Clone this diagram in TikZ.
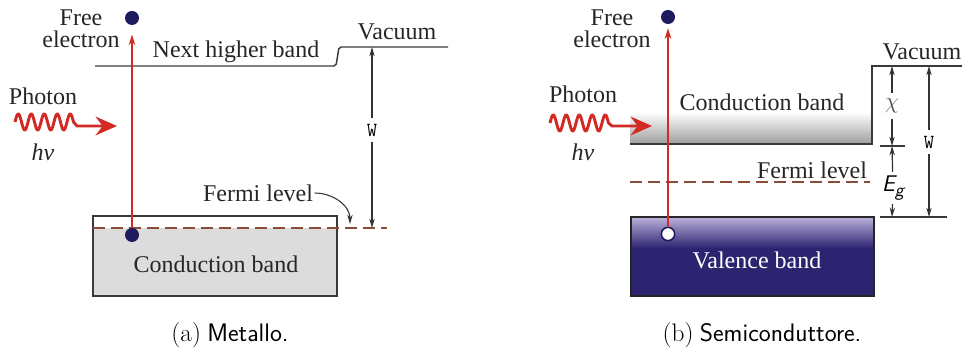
\documentclass[tikz,border=0pt]{standalone}
\usepackage{fontspec}
\setmainfont{Liberation Serif}
\newfontfamily\lmfont{Latin Modern Roman}
\usetikzlibrary{arrows.meta,positioning,calc}
\definecolor{photred}{HTML}{D42A24}
\definecolor{dotblue}{HTML}{1E1B5E}
\definecolor{valblue}{HTML}{2C2470}
\definecolor{vallav}{HTML}{B8ACD8}
\definecolor{fermibrown}{HTML}{8A4B38}
\definecolor{bandgray}{HTML}{DCDCDC}
\definecolor{edgegray}{HTML}{3A3A3A}
\newcommand{\capt}[2]{{\lmfont(#1)}\ \textsf{#2}}
\newcommand{\egap}{{\sffamily\itshape E\raisebox{-0.45ex}{\fontsize{14}{14}\selectfont g}}}
\tikzset{
  txt/.style={font=\rmfamily\fontsize{18}{16.5}\selectfont, text=black!85,
              inner sep=1pt, align=center},
  edot/.style={circle, fill=dotblue, minimum size=10.5pt, inner sep=0pt},
  hdot/.style={circle, draw=dotblue, line width=1.2pt, fill=white,
               minimum size=10pt, inner sep=0pt},
  bandln/.style={line width=1.1pt, draw=edgegray},
  fermiln/.style={dash pattern=on 9pt off 4.5pt, line width=1.1pt, draw=fermibrown},
  uparr/.style={-{Stealth[length=8pt,width=5pt]}, line width=1.4pt, color=photred},
  dimarr/.style={-{Stealth[length=7pt,width=4pt]}, line width=0.9pt, color=black!80},
  wavearr/.style={-{Stealth[length=16pt,width=14pt]}, line width=2.2pt,
                  color=photred, line join=round},
  wlbl/.style={font=\ttfamily\fontsize{15}{15}\selectfont, inner sep=4pt},
  captxt/.style={font=\fontsize{19}{22}\selectfont, inner sep=0pt}}
\begin{document}
\begin{tikzpicture}[x=0.75pt,y=-0.75pt]
  \useasboundingbox (0,0) rectangle (962,348);
  % (a) metal
  \fill[bandgray] (93,228) rectangle (337,296);
  \draw[bandln] (93,216) rectangle (337,296);
  \draw[fermiln] (93,228) -- (387,228);
  \draw[bandln, rounded corners=1.5pt] (95,66) -- (336,66) -- (339,47) -- (448,47);
  \node[txt] (nhb) at (236,52) {Next higher band};
  \node[txt] (vaca) at (397,32) {Vacuum};
  \node[txt] (cba) at (216,264) {Conduction band};
  \node[txt] (fla) at (258,193) {Fermi level};
  \node[txt] (fra) at (81,29) {Free\\electron};
  \node[txt] (pha) at (43,96) {Photon};
  \node[txt] (hva) at (43,152) {\itshape hν};
  \node[edot] (ea) at (132,235) {};
  \node[edot] (fa) at (132,18) {};
  \draw[uparr, shorten >=7pt] (ea) -- (fa);
  \coordinate (wtopa) at (372,47);
  \coordinate (wbota) at (372,228);
  \node[wlbl] (wa) at (372,130) {W};
  \draw[dimarr] (wa) -- (wtopa);
  \draw[dimarr] (wa) -- (wbota);
  \coordinate (fpta) at (350,224);
  \draw[dimarr, line width=0.8pt] (fla.east) to[out=0,in=90] (fpta);
  \coordinate (tipa) at (117,126);
  \draw[wavearr] plot[domain=0:4.5, samples=120, smooth] ({15+\x*13},{122-8*sin(360*\x)})
    -- (77,126) -- (tipa);
  \node[captxt] (capa) at (230,335) {\capt{a}{Metallo.}};
  % (b) semiconductor
  \shade[top color=white, bottom color=black!38] (630,112) rectangle (872,144);
  \draw[bandln] (630,144) -- (872,144) -- (872,66) -- (962,66);
  \fill[valblue] (631,217) rectangle (874,296);
  \shade[top color=vallav, bottom color=valblue] (631,218) rectangle (874,248);
  \draw[bandln, draw=black!85] (631,217) rectangle (874,296);
  \draw[fermiln] (630,182) -- (870,182);
  \draw[bandln, line width=0.9pt] (880,146) -- (905,146);
  \draw[bandln, line width=0.9pt] (880,217) -- (947,217);
  \node[txt] (vacb) at (922,52) {Vacuum};
  \node[txt] (cbb) at (762,102) {Conduction band};
  \node[txt] (flb) at (812,170) {Fermi level};
  \node[txt, text=white] (vbb) at (757,260) {Valence band};
  \node[txt] (frb) at (612,29) {Free\\electron};
  \node[txt] (phb) at (583,94) {Photon};
  \node[txt] (hvb) at (583,152) {\itshape hν};
  \node[hdot] (hb) at (668,234) {};
  \node[edot] (fb) at (668,17) {};
  \draw[uparr, shorten >=3pt] (hb) -- (fb);
  \coordinate (chitop) at (892,66);
  \coordinate (chibot) at (892,146);
  \coordinate (egbot) at (892,217);
  \coordinate (wtopb) at (929,66);
  \coordinate (wbotb) at (929,217);
  \node[inner sep=4pt, font=\fontsize{16}{16}\selectfont, text=black!70] (chi) at (892,106) {$\chi$};
  \node[inner sep=3pt, font=\fontsize{17}{17}\selectfont] (eg) at (893,188) {\egap};
  \node[wlbl] (wb) at (929,142) {W};
  \draw[dimarr] (chi) -- (chitop);
  \draw[dimarr] (chi) -- (chibot);
  \draw[dimarr] (eg) -- (chibot);
  \draw[dimarr] (eg) -- (egbot);
  \draw[dimarr] (wb) -- (wtopb);
  \draw[dimarr] (wb) -- (wbotb);
  \coordinate (tipb) at (652,126);
  \draw[wavearr] plot[domain=0:4.5, samples=120, smooth] ({550+\x*13},{123-8*sin(360*\x)})
    -- (612,126) -- (tipb);
  \node[captxt] (capb) at (762,335) {\capt{b}{Semiconduttore.}};
\end{tikzpicture}
\end{document}
